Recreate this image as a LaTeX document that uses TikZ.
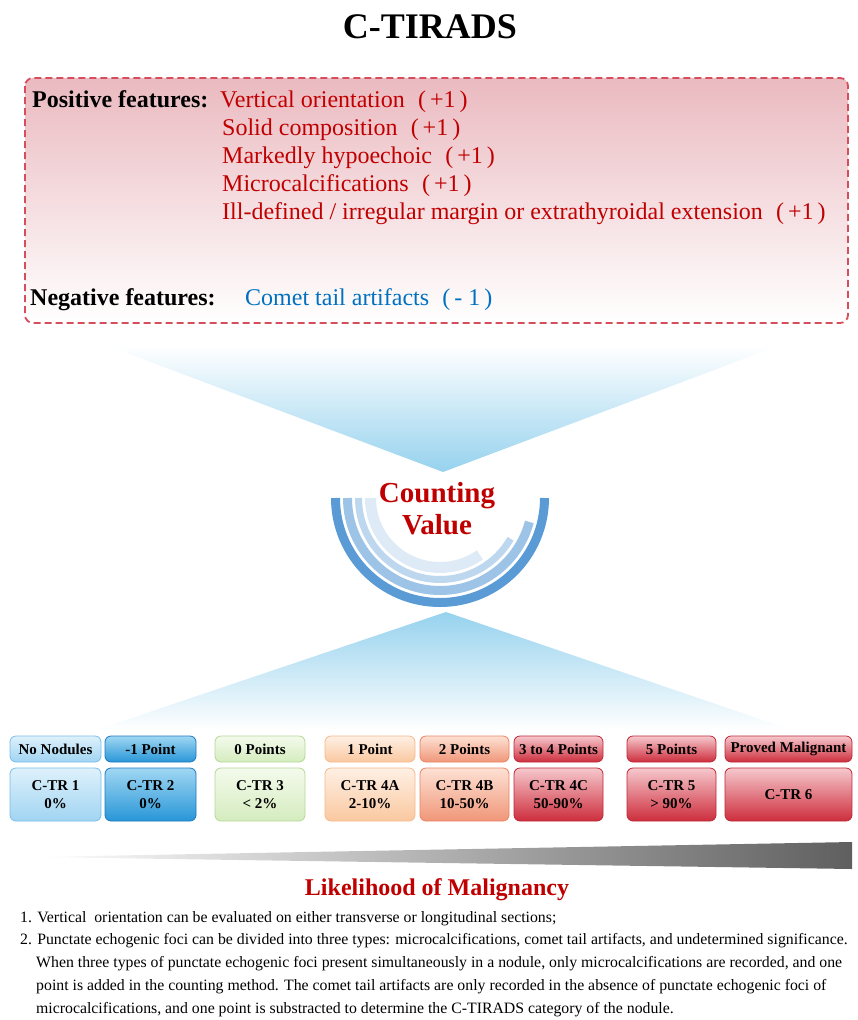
\documentclass[tikz,border=0pt]{standalone}
\usepackage{fontspec}
\setmainfont{Liberation Serif}
\usepackage{xcolor}
\usepackage{tikz}
\usetikzlibrary{positioning, shapes, fit}

\definecolor{featred}{RGB}{192,0,0}
\definecolor{featblue}{RGB}{0,112,192}
\definecolor{dashred}{RGB}{214,78,92}
\definecolor{boxpink}{RGB}{234,186,192}
\definecolor{funnelblue}{RGB}{150,210,238}
\definecolor{arcdark}{RGB}{91,155,213}
\definecolor{arcmid}{RGB}{157,195,230}
\definecolor{arclight}{RGB}{189,215,238}
\definecolor{arcpale}{RGB}{222,235,247}

\newcommand{\score}[1]{\hspace{0.55em}(\,#1\,)}

\begin{document}
\begin{tikzpicture}[x=1pt, y=-1pt, every node/.style={align=center, inner sep=0pt},
        feat/.style={anchor=base west, font=\fontsize{24}{28}\selectfont},
        head/.style={anchor=base west, font=\fontsize{24}{28}\selectfont\bfseries},
        pts/.style={draw, rounded corners=6pt, line width=0.8pt, minimum height=26pt, font=\fontsize{15}{18}\selectfont\bfseries},
        ctr/.style={pts, minimum height=53pt},
        paleblue/.style={draw={rgb,255:red,120;green,190;blue,232}, top color={rgb,255:red,222;green,241;blue,251}, bottom color={rgb,255:red,160;green,212;blue,242}},
        deepblue/.style={draw={rgb,255:red,30;green,120;blue,190}, top color={rgb,255:red,160;green,215;blue,243}, bottom color={rgb,255:red,40;green,150;blue,215}},
        green/.style={draw={rgb,255:red,180;green,216;blue,150}, top color={rgb,255:red,244;green,250;blue,236}, bottom color={rgb,255:red,212;green,236;blue,190}},
        peach/.style={draw={rgb,255:red,245;green,185;blue,140}, top color={rgb,255:red,254;green,240;blue,228}, bottom color={rgb,255:red,250;green,200;blue,160}},
        salmon/.style={draw={rgb,255:red,235;green,130;blue,100}, top color={rgb,255:red,253;green,225;blue,212}, bottom color={rgb,255:red,240;green,150;blue,120}},
        crimson/.style={draw={rgb,255:red,190;green,40;blue,55}, top color={rgb,255:red,246;green,200;blue,205}, bottom color={rgb,255:red,205;green,45;blue,60}}]
        \useasboundingbox (0,0) rectangle (858,1020);

        \node (title) at (430,27) [font=\fontsize{36}{40}\selectfont\bfseries] {C-TIRADS};

        % features panel
        \draw[dashred, line width=1.8pt, dash pattern=on 7pt off 4pt, rounded corners=8pt,
              top color=boxpink, middle color={rgb,255:red,246;green,225;blue,228}, bottom color=white]
              (25,78) rectangle (848,323);
        \node (poshead) at (32,107) [head] {Positive features:};
        \node (pos1) at (220,107) [feat, text=featred] {Vertical orientation\score{+1}};
        \node (pos2) at (222,135) [feat, text=featred] {Solid composition\score{+1}};
        \node (pos3) at (222,163) [feat, text=featred] {Markedly hypoechoic\score{+1}};
        \node (pos4) at (222,191) [feat, text=featred] {Microcalcifications\score{+1}};
        \node (pos5) at (222,219) [feat, text=featred] {Ill-defined / irregular margin or extrathyroidal extension\score{+1}};
        \node (neghead) at (30,305) [head] {Negative features:};
        \node (neg1) at (245,305) [feat, text=featblue] {Comet tail artifacts\score{- 1}};

        % funnels
        \shade[top color=white, bottom color=funnelblue] (108,346) -- (778,346) -- (443,472) -- cycle;
        \shade[top color=funnelblue, bottom color=white] (446,612) -- (792,730) -- (96,730) -- cycle;

        % counting gauge
        \coordinate (gauge) at (440,498);
        \draw[arcdark, line width=9pt] (gauge) ++(180:104.5) arc[start angle=180, end angle=0, radius=104.5];
        \draw[arcmid, line width=9pt] (gauge) ++(180:92.5) arc[start angle=180, end angle=15, radius=92.5];
        \draw[arclight, line width=7pt] (gauge) ++(180:81.5) arc[start angle=180, end angle=30, radius=81.5];
        \draw[arcpale, line width=11pt] (gauge) ++(180:69.5) arc[start angle=180, end angle=55, radius=69.5];
        \node (count) at (437,509) [text=featred, font=\fontsize{29}{32}\selectfont\bfseries] {Counting\\Value};

        % point boxes
        \node (pts1) at (55.5,749) [pts, paleblue, minimum width=91pt] {No Nodules};
        \node (pts2) at (150.5,749) [pts, deepblue, minimum width=91pt] {-1 Point};
        \node (pts3) at (260,749) [pts, green, minimum width=90pt] {0 Points};
        \node (pts4) at (370,749) [pts, peach, minimum width=90pt] {1 Point};
        \node (pts5) at (464.5,749) [pts, salmon, minimum width=89pt] {2 Points};
        \node (pts6) at (558.5,749) [pts, crimson, minimum width=89pt] {3 to 4 Points};
        \node (pts7) at (671.5,749) [pts, crimson, minimum width=89pt] {5 Points};
        \node (pts8) at (788.5,749) [pts, crimson, minimum width=127pt] {Proved Malignant};

        \node (ctr1) at (55.5,794.5) [ctr, paleblue, minimum width=91pt] {C-TR 1\\0\%};
        \node (ctr2) at (150.5,794.5) [ctr, deepblue, minimum width=91pt] {C-TR 2\\0\%};
        \node (ctr3) at (260,794.5) [ctr, green, minimum width=90pt] {C-TR 3\\< 2\%};
        \node (ctr4) at (370,794.5) [ctr, peach, minimum width=90pt] {C-TR 4A\\2-10\%};
        \node (ctr5) at (464.5,794.5) [ctr, salmon, minimum width=89pt] {C-TR 4B\\10-50\%};
        \node (ctr6) at (558.5,794.5) [ctr, crimson, minimum width=89pt] {C-TR 4C\\50-90\%};
        \node (ctr7) at (671.5,794.5) [ctr, crimson, minimum width=89pt] {C-TR 5\\> 90\%};
        \node (ctr8) at (788.5,794.5) [ctr, crimson, minimum width=127pt] {C-TR 6};

        % likelihood wedge
        \shade[left color=white, right color={rgb,255:red,95;green,95;blue,95}] (35,857) -- (852,842) -- (852,869) -- cycle;
        \node (likely) at (437,890) [text=featred, font=\fontsize{24}{28}\selectfont\bfseries] {Likelihood of Malignancy};

        % notes
        \node (notes) at (20,911) [anchor=north west, align=left, font=\fontsize{15.8}{22.8}\selectfont] {1. Vertical\ \ orientation can be evaluated on either transverse or longitudinal sections;\\
        2. Punctate echogenic foci can be divided into three types: microcalcifications, comet tail artifacts, and undetermined significance.\\
        \hspace*{16pt}When three types of punctate echogenic foci present simultaneously in a nodule, only microcalcifications are recorded, and one\\
        \hspace*{16pt}point is added in the counting method. The comet tail artifacts are only recorded in the absence of punctate echogenic foci of\\
        \hspace*{16pt}microcalcifications, and one point is substracted to determine the C-TIRADS category of the nodule.};
    \end{tikzpicture}
\end{document}
